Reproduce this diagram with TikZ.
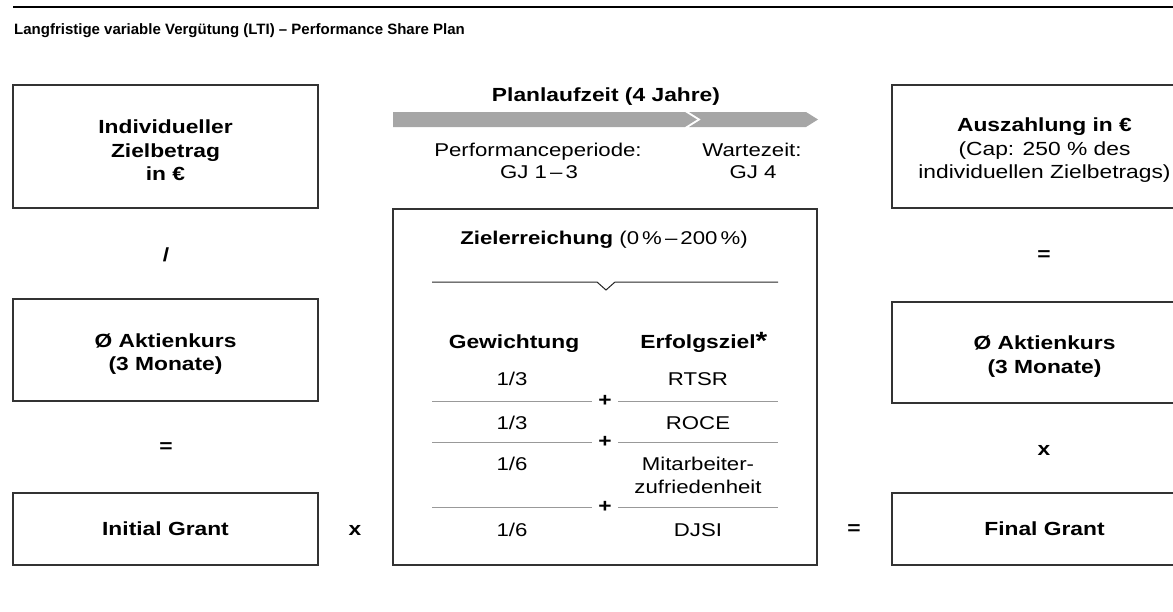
\documentclass[tikz,border=0pt]{standalone}
\usepackage{fontspec}
\setmainfont{Liberation Sans}[FakeStretch=1.2]
\newfontfamily\titlefont{Liberation Sans}
\newcommand\boxstrut{\rule{0pt}{21.5pt}}
\tikzset{
  box/.style={draw=black!80, line width=1.3pt, align=center, inner sep=0pt,
    font=\bfseries\fontsize{19}{23.5}\selectfont},
  op/.style={font=\bfseries\fontsize{19}{23}\selectfont, inner sep=0pt},
  lbl/.style={font=\fontsize{18.5}{22}\selectfont, inner sep=0pt, anchor=base},
  blbl/.style={font=\bfseries\fontsize{19}{22}\selectfont, inner sep=0pt, anchor=base},
  sepline/.style={draw=black!40, line width=1pt},
}
\begin{document}
\begin{tikzpicture}[x=1pt,y=-1pt]
\useasboundingbox (0,0) rectangle (1173,611);
\clip (0,0) rectangle (1173,611);
% title
\coordinate (ruleL) at (13,6.5);
\coordinate (ruleR) at (1173,6.5);
\draw[line width=2pt] (ruleL) -- (ruleR);
\node[anchor=base west, inner sep=0pt, font=\titlefont\bfseries\fontsize{15}{18}\selectfont] (title) at (14,34)
  {Langfristige variable Vergütung (LTI) – Performance Share Plan};
% left column
\node[box, minimum width=305pt, minimum height=123pt] (ziel) at (165.5,146.5) {\boxstrut Individueller\\Zielbetrag\\in €};
\node[op] (div) at (166,255) {/};
\node[box, minimum width=305pt, minimum height=102pt] (kursL) at (165.5,350) {\boxstrut Ø Aktienkurs\\(3 Monate)};
\node[op] (eqL) at (166,448) {=};
\node[box, minimum width=305pt, minimum height=72pt] (init) at (165.5,529) {Initial Grant};
\node[op] (mulL) at (355,530) {x};
% right column
\node[box, minimum width=305pt, minimum height=123pt] (ausz) at (1044.5,146.5)
  {\boxstrut Auszahlung in €\\\mdseries(Cap: 250 \% des\\\mdseries individuellen Zielbetrags)};
\node[op] (eqR) at (1044,256) {=};
\node[box, minimum width=305pt, minimum height=101pt] (kursR) at (1044.5,352.5) {\boxstrut Ø Aktienkurs\\(3 Monate)};
\node[op] (mulR) at (1044,450) {x};
\node[box, minimum width=305pt, minimum height=72pt] (final) at (1044.5,529) {Final Grant};
\node[op] (eqM) at (854,530) {=};
% plan band
\fill[black!35] (393,112) -- (685,112) -- (697,119.5) -- (685,127) -- (393,127) -- cycle;
\fill[black!35] (689,112) -- (806,112) -- (818,119.5) -- (806,127) -- (689,127) -- (701,119.5) -- cycle;
\node[blbl] (plan) at (606,101) {Planlaufzeit (4 Jahre)};
\node[lbl] (perf1) at (538,156) {Performanceperiode:};
\node[lbl] (perf2) at (539,178) {GJ 1\,–\,3};
\node[lbl] (wart1) at (752,156) {Wartezeit:};
\node[lbl] (wart2) at (753,178) {GJ 4};
% middle box
\node[draw=black!80, line width=1.3pt, minimum width=424pt, minimum height=356pt, inner sep=0pt] (mid) at (605,387) {};
\node[lbl] (zer) at (604,244) {\bfseries Zielerreichung\mdseries{} (0\,\%\,–\,200\,\%)};
\coordinate (zl) at (432,282);
\coordinate (zr) at (778,282);
\draw[black!85, line width=1pt] (zl) -- (597,282) -- (606,290) -- (615,282) -- (zr);
\node[blbl] (gew) at (514,348) {Gewichtung};
\node[blbl] (erf) at (698,348) {Erfolgsziel\rlap{\raisebox{-1pt}{\fontsize{25}{25}\selectfont *}}};
% rows
\node[lbl] (w1) at (512,385) {1/3};
\node[lbl] (z1) at (698,385) {RTSR};
\node[op] (p1) at (605,401) {+};
\draw[sepline] (432,401) -- (592,401);
\draw[sepline] (618,401) -- (778,401);
\node[lbl] (w2) at (512,429) {1/3};
\node[lbl] (z2) at (698,429) {ROCE};
\node[op] (p2) at (605,442) {+};
\draw[sepline] (432,442) -- (592,442);
\draw[sepline] (618,442) -- (778,442);
\node[lbl] (w3) at (512,470) {1/6};
\node[lbl] (z3a) at (698,470) {Mitarbeiter-};
\node[lbl] (z3b) at (698,493) {zufriedenheit};
\node[op] (p3) at (605,507) {+};
\draw[sepline] (432,507) -- (592,507);
\draw[sepline] (618,507) -- (778,507);
\node[lbl] (w4) at (512,536) {1/6};
\node[lbl] (z4) at (698,536) {DJSI};
\end{tikzpicture}
\end{document}
